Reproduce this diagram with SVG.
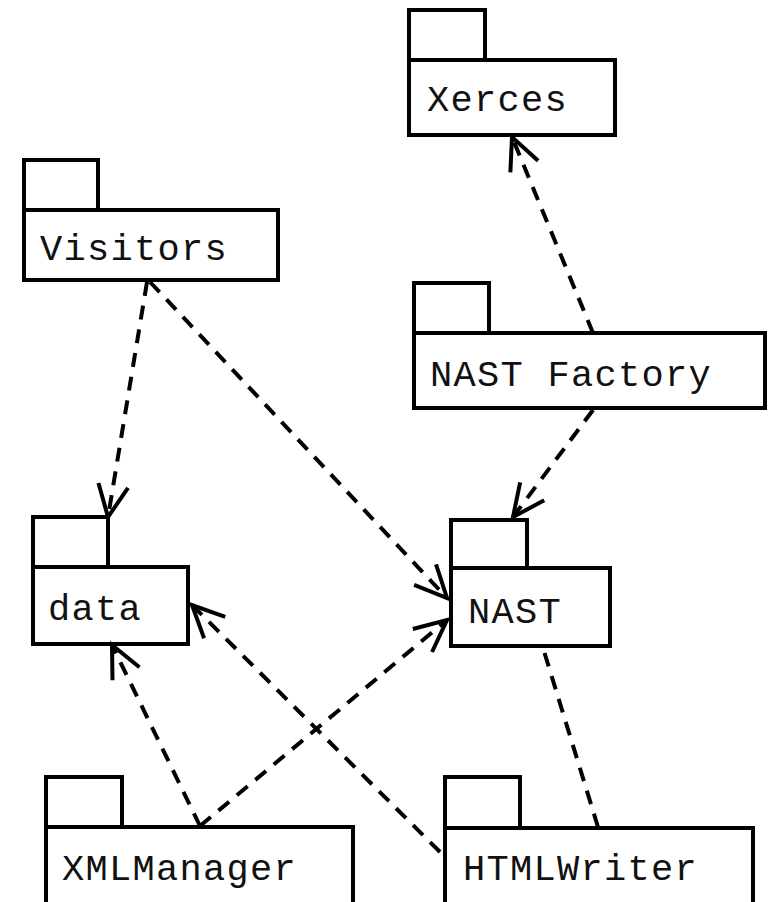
<svg xmlns="http://www.w3.org/2000/svg" width="769" height="902" viewBox="0 0 769 902">
<style>
.box{fill:#fff;stroke:#000;stroke-width:4}
.lbl{font-family:"Liberation Mono","DejaVu Sans Mono",monospace;font-size:37px;letter-spacing:1.3px;fill:#111}
.dep{fill:none;stroke:#000;stroke-width:4;stroke-dasharray:14 10}
</style>
<defs>
<marker id="open" markerUnits="userSpaceOnUse" viewBox="-40 -20 44 40" refX="0" refY="0" markerWidth="44" markerHeight="40" orient="auto">
<path d="M-32,-15 L0,0 L-32,15" fill="none" stroke="#000" stroke-width="4"/>
</marker>
</defs>
<rect width="769" height="902" fill="#fff"/>
<g id="Xerces">
<rect class="box" x="409" y="10" width="76" height="50"/>
<rect class="box" x="409" y="60" width="206" height="75"/>
<text class="lbl" x="427" y="111">Xerces</text>
</g>
<g id="Visitors">
<rect class="box" x="24" y="160" width="74" height="50"/>
<rect class="box" x="24" y="210" width="254" height="70"/>
<text class="lbl" x="40" y="260">Visitors</text>
</g>
<g id="NASTFactory">
<rect class="box" x="414" y="283" width="75" height="50"/>
<rect class="box" x="414" y="333" width="351" height="75"/>
<text class="lbl" x="430" y="386">NAST Factory</text>
</g>
<g id="data">
<rect class="box" x="33" y="517" width="75" height="50"/>
<rect class="box" x="33" y="567" width="155" height="77"/>
<text class="lbl" x="48" y="620">data</text>
</g>
<g id="NAST">
<rect class="box" x="451" y="520" width="76" height="48"/>
<rect class="box" x="451" y="568" width="159" height="78"/>
<text class="lbl" x="468" y="623">NAST</text>
</g>
<g id="XMLManager">
<rect class="box" x="46" y="777" width="76" height="50"/>
<rect class="box" x="46" y="827" width="307" height="80"/>
<text class="lbl" x="62" y="880">XMLManager</text>
</g>
<g id="HTMLWriter">
<rect class="box" x="445" y="777" width="75" height="51"/>
<rect class="box" x="445" y="828" width="308" height="80"/>
<text class="lbl" x="463" y="880">HTMLWriter</text>
</g>
<g id="connectors">
<path class="dep" d="M593,333 L512,137" marker-end="url(#open)"/>
<path class="dep" d="M593,410 L513,517" marker-end="url(#open)"/>
<path class="dep" d="M147,282 L108,517" marker-end="url(#open)"/>
<path class="dep" d="M150,282 L447,598" marker-end="url(#open)"/>
<path class="dep" d="M200,826 L112,645" marker-end="url(#open)"/>
<path class="dep" d="M200,826 L447,620" marker-end="url(#open)"/>
<path class="dep" d="M440,852 L192,605" marker-end="url(#open)"/>
<path class="dep" d="M598,827 L543,648"/>
</g>
</svg>
